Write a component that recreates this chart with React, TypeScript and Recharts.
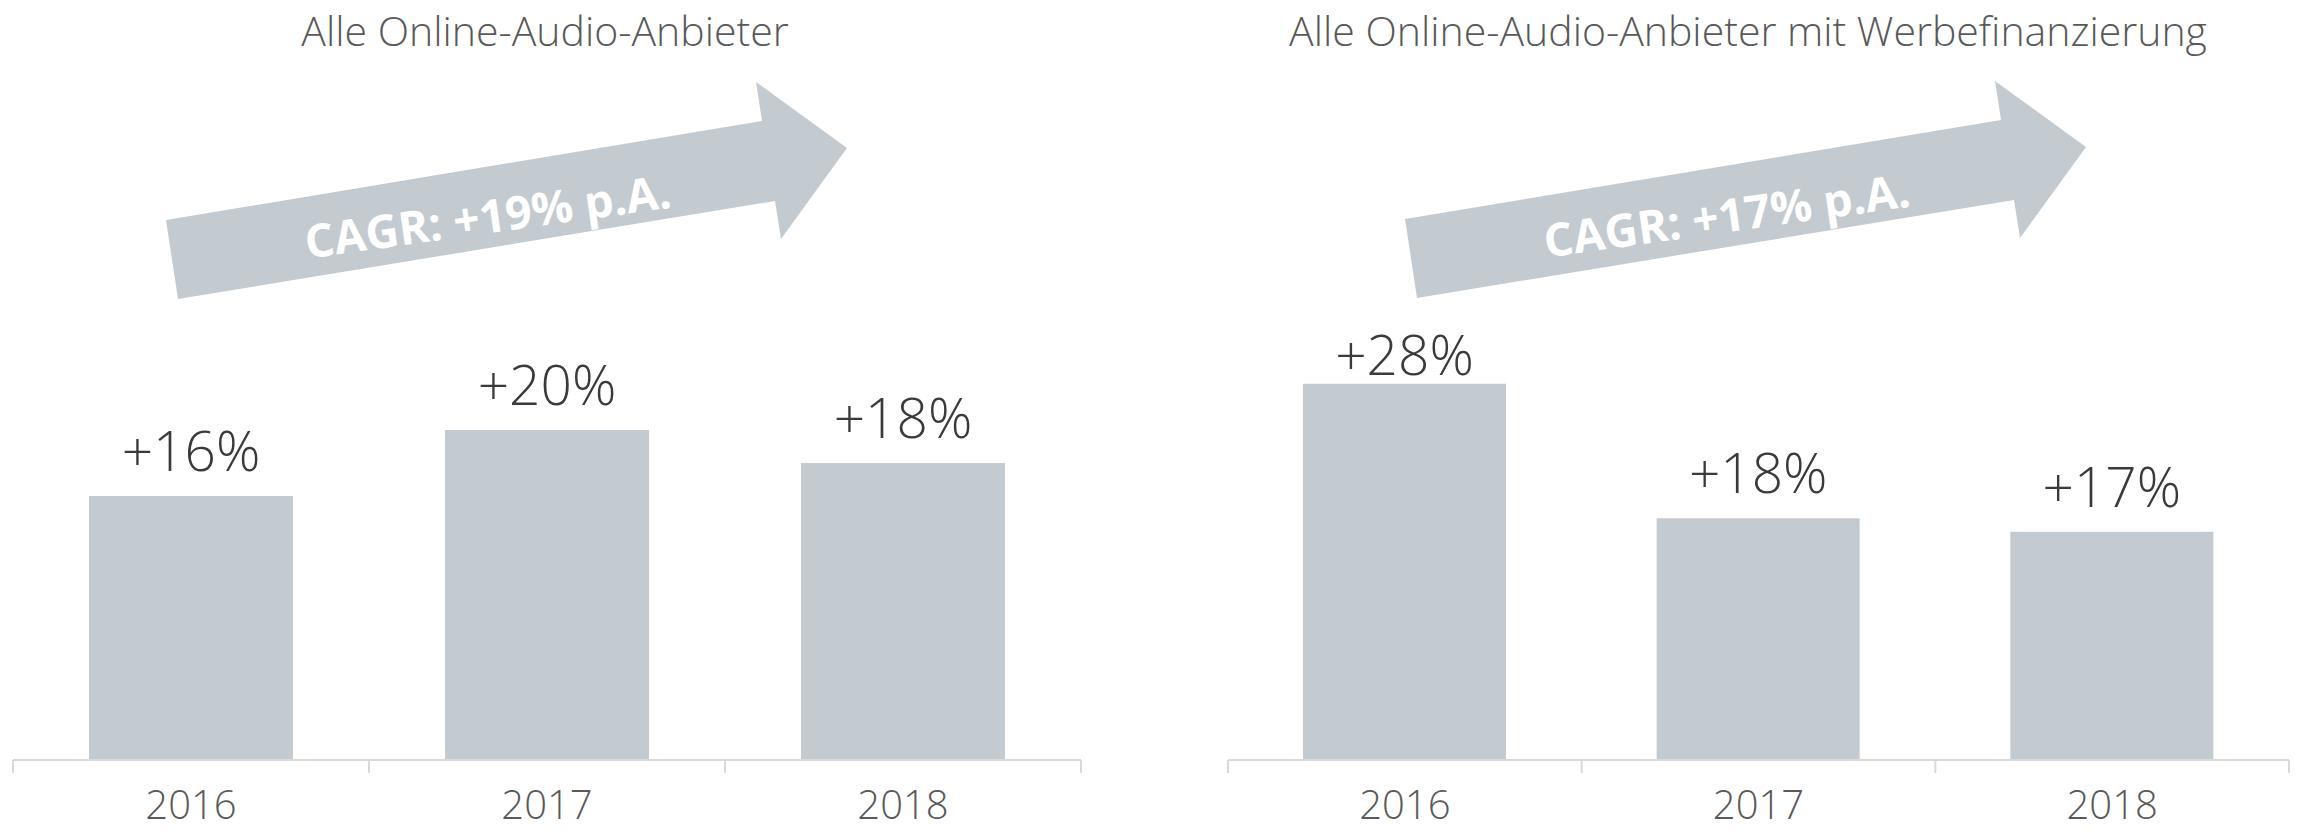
import { BarChart, Bar, XAxis, YAxis, LabelList, Customized } from 'recharts'

const years = ['2016', '2017', '2018']
const growthAll = [16, 20, 18]
const growthAdFunded = [28, 18, 17]
const cagrAll = 19
const cagrAdFunded = 17
const titleAll = 'Alle Online-Audio-Anbieter'
const titleAdFunded = 'Alle Online-Audio-Anbieter mit Werbefinanzierung'

const FONT = '"Open Sans", "Segoe UI", sans-serif'
const BAR_COLOR = '#c3cbd0'
const AXIS_COLOR = '#d9d9d9'
const LABEL_COLOR = '#3a3a3a'
const TICK_COLOR = '#595959'
const CHART_W = 1150
const CHART_H = 832
const AXIS_H = 72

// arrow outline, relative to the tail's upper corner
const arrowShape = [
  [12, 79],
  [0, 0],
  [596, -99],
  [590, -138],
  [681, -72],
  [615, 19],
  [609, -19],
]

function Decor({ title, titleX, cagr, arrowX, arrowY }) {
  const pts = arrowShape.map(([dx, dy]) => `${arrowX + dx},${arrowY + dy}`).join(' ')
  const tx = arrowX + 324
  const ty = arrowY + 13
  return (
    <g>
      <text x={titleX} y={46} textAnchor="middle" fontSize={41} fontWeight={300} fill={TICK_COLOR} fontFamily={FONT}>
        {title}
      </text>
      <polygon points={pts} fill={BAR_COLOR} />
      <text
        x={tx}
        y={ty}
        textAnchor="middle"
        fontSize={46}
        fontWeight={700}
        fill="#ffffff"
        fontFamily={FONT}
        transform={`rotate(-8 ${tx} ${ty})`}
      >
        {`CAGR: +${cagr}% p.A.`}
      </text>
    </g>
  )
}

function GrowthChart({ values, title, titleX, cagr, arrowX, arrowY, margin, barSize, labelGaps }) {
  const data = years.map((year, i) => ({ year, value: values[i] }))
  const band = (CHART_W - margin.left - margin.right) / years.length

  // year label plus tick marks on the category borders
  const renderTick = (props) => {
    const { x, y, payload, index } = props
    const half = band / 2
    return (
      <g>
        <line x1={x - half} y1={y} x2={x - half} y2={y + 13} stroke={AXIS_COLOR} strokeWidth={2} />
        {index === years.length - 1 && (
          <line x1={x + half} y1={y} x2={x + half} y2={y + 13} stroke={AXIS_COLOR} strokeWidth={2} />
        )}
        <text x={x} y={y + 59} textAnchor="middle" fontSize={40} fontWeight={300} fill={TICK_COLOR} fontFamily={FONT}>
          {payload.value}
        </text>
      </g>
    )
  }

  const renderLabel = (props) => {
    const { x, y, width, value, index } = props
    return (
      <text
        x={x + width / 2}
        y={y - (labelGaps[index] ?? 25)}
        textAnchor="middle"
        fontSize={55}
        fontWeight={300}
        fill={LABEL_COLOR}
        fontFamily={FONT}
      >
        {`+${value}%`}
      </text>
    )
  }

  return (
    <BarChart
      width={CHART_W}
      height={CHART_H}
      data={data}
      margin={{ top: margin.top, left: margin.left, right: margin.right, bottom: 0 }}
    >
      <XAxis
        dataKey="year"
        height={AXIS_H}
        axisLine={{ stroke: AXIS_COLOR, strokeWidth: 2 }}
        tickLine={false}
        tickSize={0}
        tickMargin={0}
        interval={0}
        tick={renderTick}
      />
      <YAxis hide domain={[0, 30]} />
      <Bar dataKey="value" fill={BAR_COLOR} barSize={barSize} isAnimationActive={false}>
        <LabelList dataKey="value" content={renderLabel} />
      </Bar>
      <Customized
        component={() => (
          <Decor title={title} titleX={titleX} cagr={cagr} arrowX={arrowX} arrowY={arrowY} />
        )}
      />
    </BarChart>
  )
}

export default function App() {
  return (
    <div
      style={{
        position: 'absolute',
        left: 0,
        top: 0,
        width: 2300,
        height: 832,
        display: 'flex',
        background: '#ffffff',
      }}
    >
      <GrowthChart
        values={growthAll}
        title={titleAll}
        titleX={545}
        cagr={cagrAll}
        arrowX={166}
        arrowY={220}
        margin={{ top: 265, left: 13, right: 69 }}
        barSize={204}
        labelGaps={[25, 25, 25]}
      />
      <GrowthChart
        values={growthAdFunded}
        title={titleAdFunded}
        titleX={598}
        cagr={cagrAdFunded}
        arrowX={255}
        arrowY={219}
        margin={{ top: 357, left: 78, right: 11 }}
        barSize={203}
        labelGaps={[9, 25, 25]}
      />
    </div>
  )
}
